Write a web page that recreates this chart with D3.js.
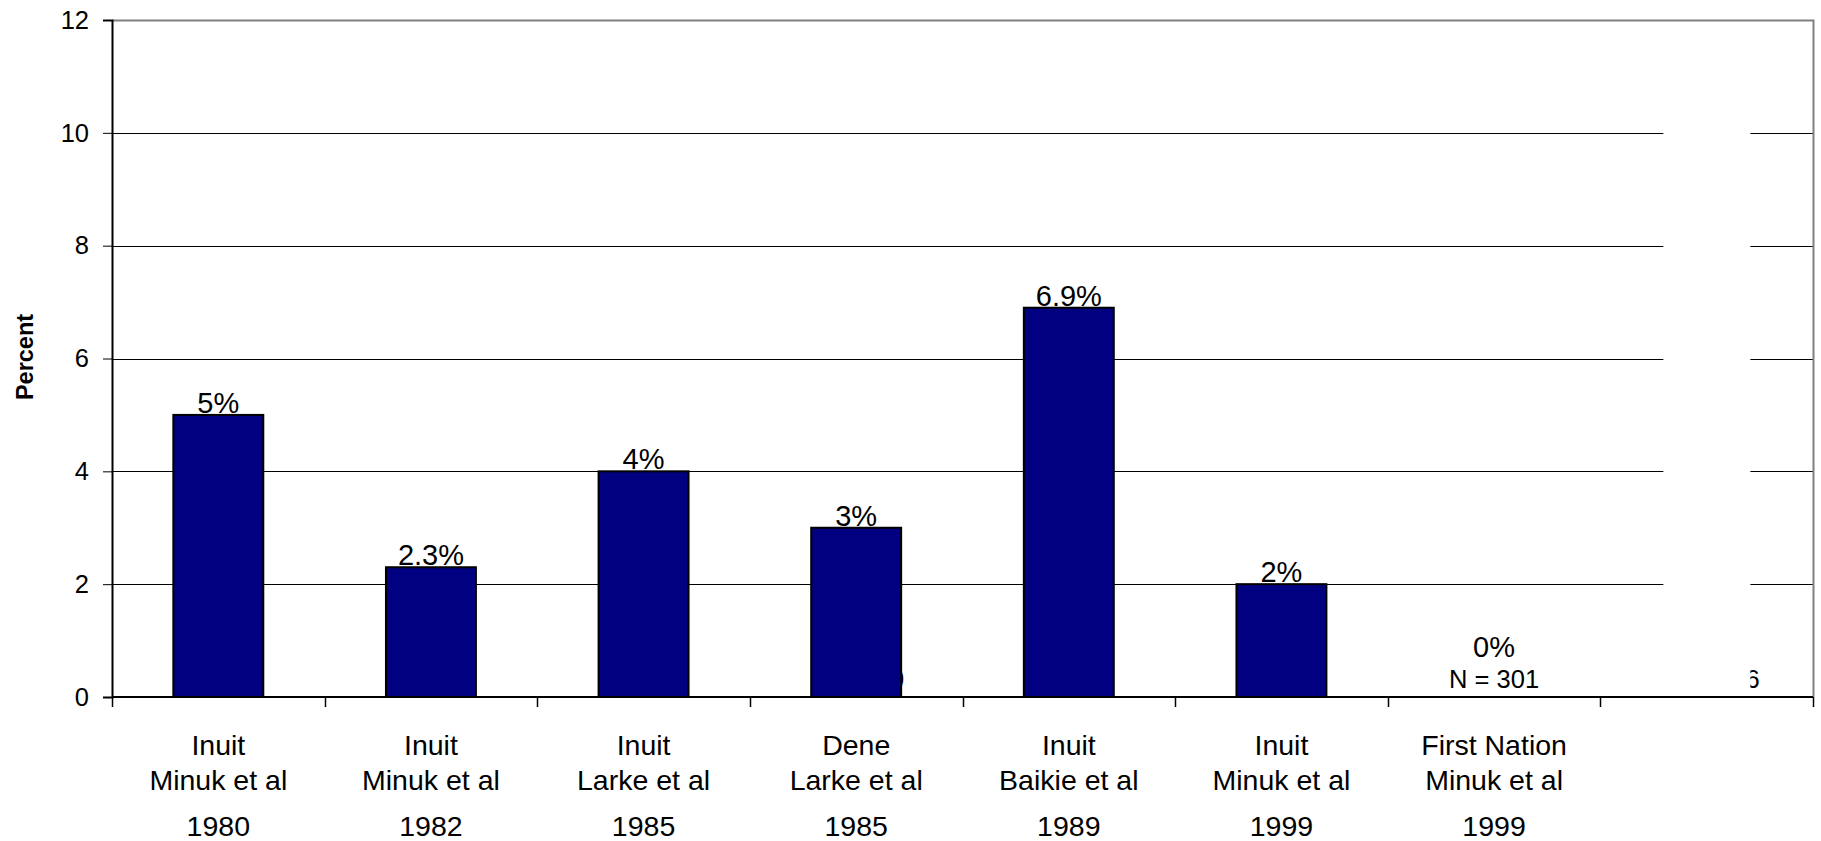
<!DOCTYPE html>
<html>
<head>
  <meta charset="utf-8">
  <title>Percent by study</title>
  <script src="https://d3js.org/d3.v7.min.js"></script>
  <style>
    body { margin: 0; background: #fff; }
    text { font-family: "Liberation Sans", Arial, sans-serif; fill: #000; }
  </style>
</head>
<body>
  <svg id="chart" width="1821" height="841"></svg>

  <script>
    // data
    var groups  = ["Inuit", "Inuit", "Inuit", "Dene", "Inuit", "Inuit", "First Nation", ""];
    var authors = ["Minuk et al", "Minuk et al", "Larke et al", "Larke et al", "Baikie et al", "Minuk et al", "Minuk et al", ""];
    var years   = ["1980", "1982", "1985", "1985", "1989", "1999", "1999", ""];
    var values  = [5, 2.3, 4, 3, 6.9, 2, 0, null];
    // sample size notes, mostly hidden behind bars in the original
    var nNotes  = ["", "", "", "N = 300", "", "", "N = 301", "N = 116"];
    var yTicks  = [0, 2, 4, 6, 8, 10, 12];

    var svg = d3.select("#chart");
    var ids = d3.range(groups.length);

    // plot box
    var pLeft = 112, pRight = 1813, pTop = 20, pBottom = 697;

    var x = d3.scaleBand()
      .domain(ids)
      .range([pLeft, pRight])
      .paddingInner(0.577)
      .paddingOuter(0.2885);

    var y = d3.scaleLinear()
      .domain([0, 12])
      .range([pBottom, pTop]);

    var step = x.step();
    var gap = (step - x.bandwidth()) / 2;
    var lastId = ids[ids.length - 1];

    // gridlines
    svg.append("g")
      .selectAll("line")
      .data(yTicks.filter(function(d) { return d > 0 && d < 12; }))
      .enter().append("line")
        .attr("x1", pLeft).attr("x2", pRight)
        .attr("y1", function(d) { return Math.round(y(d)) + 0.5; })
        .attr("y2", function(d) { return Math.round(y(d)) + 0.5; })
        .attr("stroke", "#000").attr("stroke-width", 1);

    // plot border (top + right, grey)
    svg.append("path")
      .attr("d", "M" + pLeft + "," + (y(12) + 0.5) + "H" + (pRight + 0.5) + "V" + pBottom)
      .attr("fill", "none")
      .attr("stroke", "#808080").attr("stroke-width", 2);

    // sample size notes sit under the bars
    svg.append("g")
      .selectAll("text")
      .data(ids)
      .enter().append("text")
        .attr("x", function(i) {
          var c = x(i) + x.bandwidth() / 2;
          if (i === 3) return c + 3;
          if (i === lastId) return c + 53;
          return c;
        })
        .attr("y", 688)
        .attr("text-anchor", function(i) { return i === lastId ? "end" : "middle"; })
        .style("font-size", "25.5px")
        .text(function(i) { return nNotes[i]; });

    // bars
    svg.append("g")
      .selectAll("rect")
      .data(ids.filter(function(i) { return values[i] !== null; }))
      .enter().append("rect")
        .attr("x", function(i) { return x(i); })
        .attr("y", function(i) { return y(values[i]); })
        .attr("width", x.bandwidth())
        .attr("height", function(i) { return y(0) - y(values[i]); })
        .attr("fill", "#000080")
        .attr("stroke", "#000").attr("stroke-width", 2);

    // value labels
    svg.append("g")
      .selectAll("text")
      .data(ids.filter(function(i) { return values[i] !== null; }))
      .enter().append("text")
        .attr("x", function(i) { return x(i) + x.bandwidth() / 2; })
        .attr("y", function(i) { return values[i] === 0 ? 657 : y(values[i]) - 2; })
        .attr("text-anchor", "middle")
        .style("font-size", "29px")
        .text(function(i) { return values[i] + "%"; });

    // white patch over the last column
    svg.append("rect")
      .attr("x", x(lastId) - gap + 63)
      .attr("y", y(11.3))
      .attr("width", 87)
      .attr("height", y(0) - y(11.3) - 1)
      .attr("fill", "#fff");

    // y axis
    var yAxis = svg.append("g")
      .attr("transform", "translate(" + pLeft + ",0)")
      .call(d3.axisLeft(y).tickValues(yTicks).tickSize(9).tickPadding(14));
    yAxis.select(".domain").attr("stroke", "#000").attr("stroke-width", 2);
    yAxis.selectAll(".tick line").attr("stroke", "#000");
    yAxis.selectAll(".tick text")
      .style("font-family", "'Liberation Sans', Arial, sans-serif")
      .style("font-size", "25.5px").attr("fill", "#000");

    // x axis: baseline plus ticks at category boundaries
    svg.append("line")
      .attr("x1", pLeft).attr("x2", pRight)
      .attr("y1", pBottom).attr("y2", pBottom)
      .attr("stroke", "#000").attr("stroke-width", 2);

    var bounds = ids.map(function(i) { return x(i) - gap; }).concat([pRight]);
    svg.append("g")
      .selectAll("line")
      .data(bounds)
      .enter().append("line")
        .attr("x1", function(d) { return Math.round(d) + 0.5; })
        .attr("x2", function(d) { return Math.round(d) + 0.5; })
        .attr("y1", pBottom).attr("y2", pBottom + 10)
        .attr("stroke", "#000").attr("stroke-width", 1.5);

    // category labels, three lines each
    var lab = svg.append("g")
      .selectAll("g")
      .data(ids)
      .enter().append("g")
        .attr("transform", function(i) { return "translate(" + (x(i) + x.bandwidth() / 2) + ",0)"; });
    lab.append("text").attr("y", 755).attr("text-anchor", "middle")
      .style("font-size", "28.5px").text(function(i) { return groups[i]; });
    lab.append("text").attr("y", 790).attr("text-anchor", "middle")
      .style("font-size", "28.5px").text(function(i) { return authors[i]; });
    lab.append("text").attr("y", 836).attr("text-anchor", "middle")
      .style("font-size", "28.5px").text(function(i) { return years[i]; });

    // axis title
    svg.append("text")
      .attr("transform", "translate(33,357) rotate(-90)")
      .attr("text-anchor", "middle")
      .style("font-size", "23.5px")
      .style("font-weight", "bold")
      .text("Percent");
  </script>
</body>
</html>
